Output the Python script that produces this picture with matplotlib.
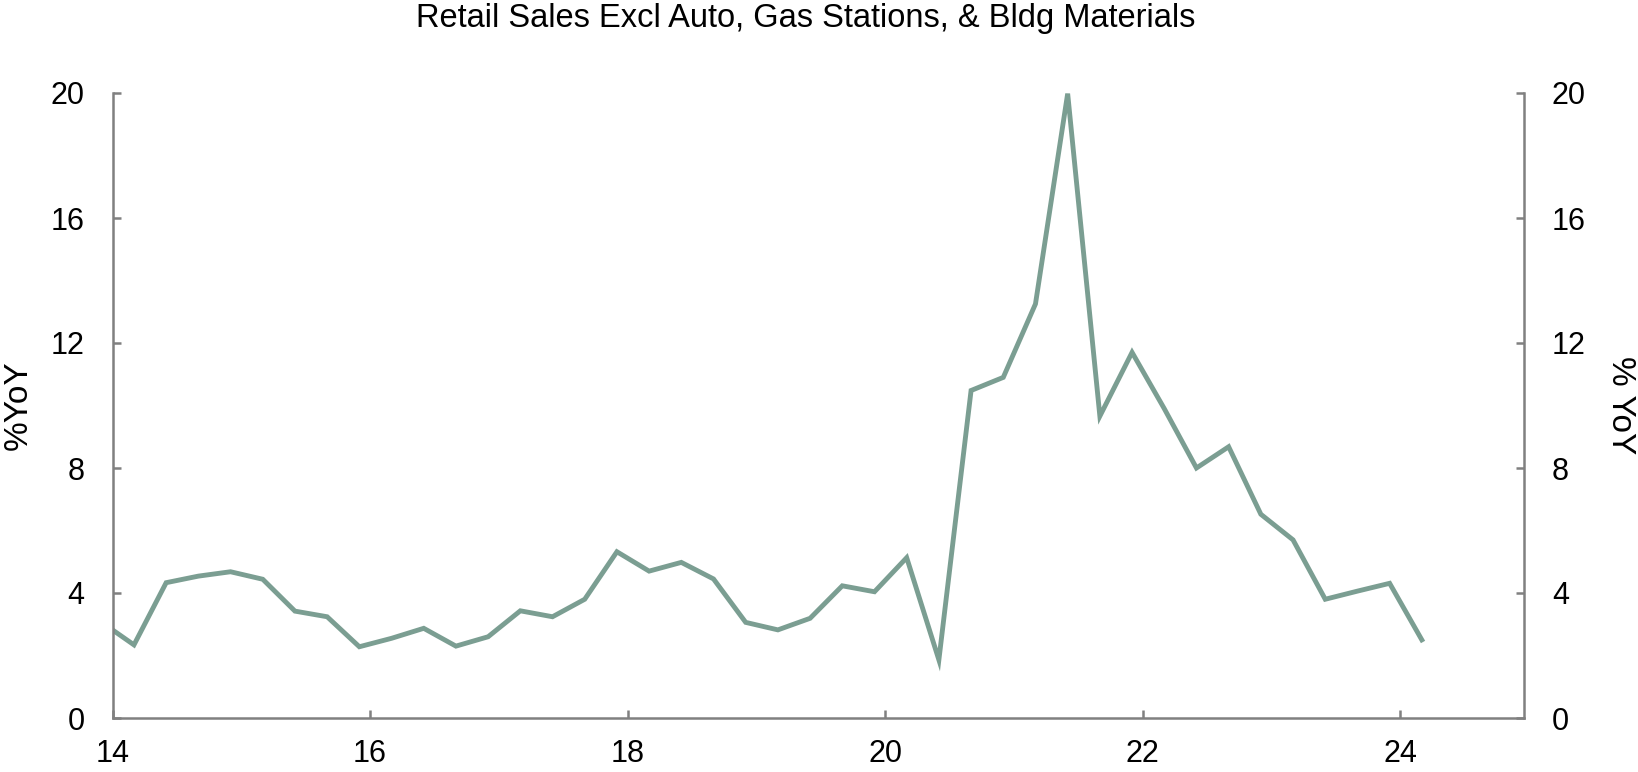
import matplotlib
matplotlib.use("Agg")
import matplotlib.pyplot as plt
import pandas as pd
import numpy as np

plt.rcParams['font.family'] = ['Liberation Sans', 'DejaVu Sans']

title = "Retail Sales Excl Auto, Gas Stations, & Bldg Materials"
start_date = "2013-12-01"
yoy = [3.06,
       2.34, 4.33, 4.54, 4.68,
       4.44, 3.42, 3.24, 2.28,
       2.55, 2.87, 2.30, 2.60,
       3.43, 3.24, 3.80, 5.32,
       4.70, 4.98, 4.45, 3.06,
       2.82, 3.19, 4.23, 4.04,
       5.13, 1.86, 10.48, 10.90,
       13.25, 19.98, 9.66, 11.70,
       9.90, 8.00, 8.68, 6.52,
       5.70, 3.80, 4.06, 4.31,
       2.50]
xticks = [14, 16, 18, 20, 22, 24]
yticks = [0, 4, 8, 12, 16, 20]

dates = pd.date_range(start_date, periods=len(yoy), freq="3MS")
xdec = dates.year - 2000 + (dates.month - 1) / 12.0

W, H = 1638, 772
fig = plt.figure(figsize=(W/100, H/100), dpi=100)
ax = fig.add_axes([112.5/W, 54/H, (1524-112.5)/W, (718-93)/H])
line_color = "#7b9e92"
ax.plot(xdec, yoy, color=line_color, lw=3.5, solid_joinstyle='miter')
ax.set_xlim(14, 24.96)
ax.set_ylim(0, 20)

spine_color = "#808080"
for s in ['left', 'right', 'bottom']:
    ax.spines[s].set_color(spine_color)
    ax.spines[s].set_linewidth(1.8)
ax.spines['top'].set_visible(False)

ax.set_xticks(xticks)
ax.set_xticklabels([str(t) for t in xticks])
ax.set_yticks(yticks)
ax.set_yticklabels([str(t) for t in yticks])
ax.tick_params(axis='both', direction='in', length=6, width=1.8, color=spine_color,
               labelsize=22, labelcolor='black')
ax.tick_params(axis='y', pad=20, right=True, labelright=True)
ax.tick_params(axis='x', pad=15)

fig.text(18/W, 1 - 405/H, "%YoY", rotation=90, ha='center', va='center', fontsize=24)
fig.text(1621/W, 1 - 405/H, "% YoY", rotation=270, ha='center', va='center', fontsize=24)

fig.text(806/W, 1 - 19/H, title, ha='center', va='center', fontsize=23.5)

fig.savefig("out.png", dpi=100)
